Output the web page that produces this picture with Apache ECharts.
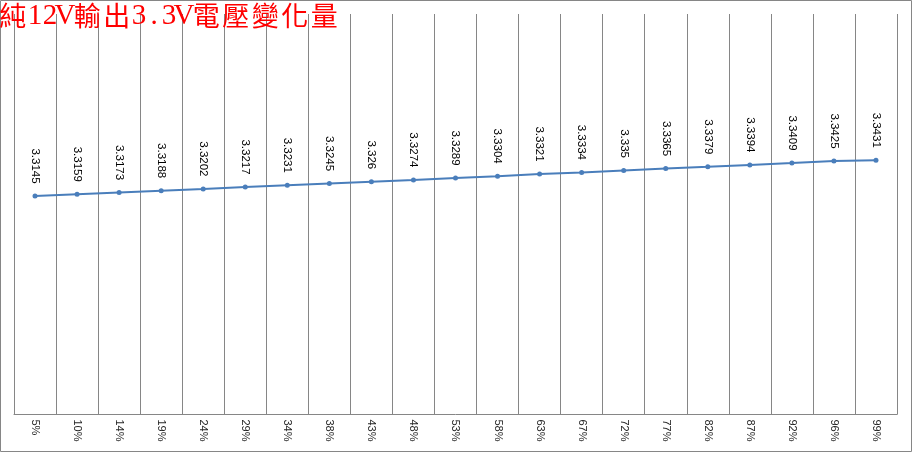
<!DOCTYPE html>
<html>
<head>
<meta charset="utf-8">
<script src="https://cdn.jsdelivr.net/npm/echarts@6/dist/echarts.min.js"></script>
<style>
html,body{margin:0;padding:0;background:#fff;}
#main{width:913px;height:453px;}
</style>
</head>
<body>
<div id="main"></div>
<script>
const titleText = '純12V輸出3.3V電壓變化量';
const categories = ['5%','10%','14%','19%','24%','29%','34%','38%','43%','48%','53%','58%','63%','67%','72%','77%','82%','87%','92%','96%','99%'];
const voltages = [3.3145,3.3159,3.3173,3.3188,3.3202,3.3217,3.3231,3.3245,3.326,3.3274,3.3289,3.3304,3.3321,3.3334,3.335,3.3365,3.3379,3.3394,3.3409,3.3425,3.3431];
const yMin = 3.14, yMax = 3.46;

// build rich title: CJK chars full-width boxes, latin chars half-width boxes
function richTitle(s) {
  let out = '';
  for (const ch of s) {
    out += (/[\u3000-\u9fff\uff00-\uffef]/.test(ch) ? '{c|' : '{l|') + ch + '}';
  }
  return out;
}

const chart = echarts.init(document.getElementById('main'), null, {renderer:'canvas'});
chart.setOption({
  animation: false,
  backgroundColor: '#fff',
  graphic: [{
    type: 'rect', silent: true, z: -1,
    shape: {x: 0.5, y: 0.5, width: 911, height: 451},
    style: {fill: 'none', stroke: '#868686', lineWidth: 1}
  }, {
    type: 'text', silent: true, z: 10,
    left: -2, top: 1,
    style: {
      text: richTitle(titleText),
      rich: {
        c: {fontSize: 27, width: 29.5, align: 'center', height: 30, lineHeight: 30, verticalAlign: 'middle', fill: '#ff0000', fontFamily: "'Noto Sans CJK TC', sans-serif"},
        l: {fontSize: 29, width: 15, align: 'center', height: 30, lineHeight: 30, verticalAlign: 'middle', fill: '#ff0000', fontFamily: "'Liberation Serif', serif"}
      }
    }
  }],
  grid: {left: 14, right: 16, top: 14, bottom: 38.5, containLabel: false},
  xAxis: {
    type: 'category',
    data: categories,
    boundaryGap: true,
    axisLine: {show: true, lineStyle: {color: '#868686', width: 1}},
    axisTick: {show: false},
    splitLine: {show: true, interval: 0, lineStyle: {color: '#868686', width: 1}},
    axisLabel: {interval: 0, rotate: -90, margin: 5, fontSize: 11, color: '#262626', fontFamily: "'Liberation Sans', Arial, sans-serif"}
  },
  yAxis: {
    type: 'value', min: yMin, max: yMax,
    show: false,
    splitLine: {show: false}
  },
  series: [{
    type: 'line',
    data: voltages,
    symbol: 'circle',
    symbolSize: 5,
    lineStyle: {color: '#4a7ebb', width: 2},
    itemStyle: {color: '#4a7ebb'},
    label: {
      show: true,
      position: 'top',
      distance: 10,
      rotate: -90,
      align: 'right',
      verticalAlign: 'middle',
      fontSize: 11.5,
      color: '#000',
      fontFamily: "'Liberation Sans', Arial, sans-serif"
    }
  }]
});
</script>
</body>
</html>
